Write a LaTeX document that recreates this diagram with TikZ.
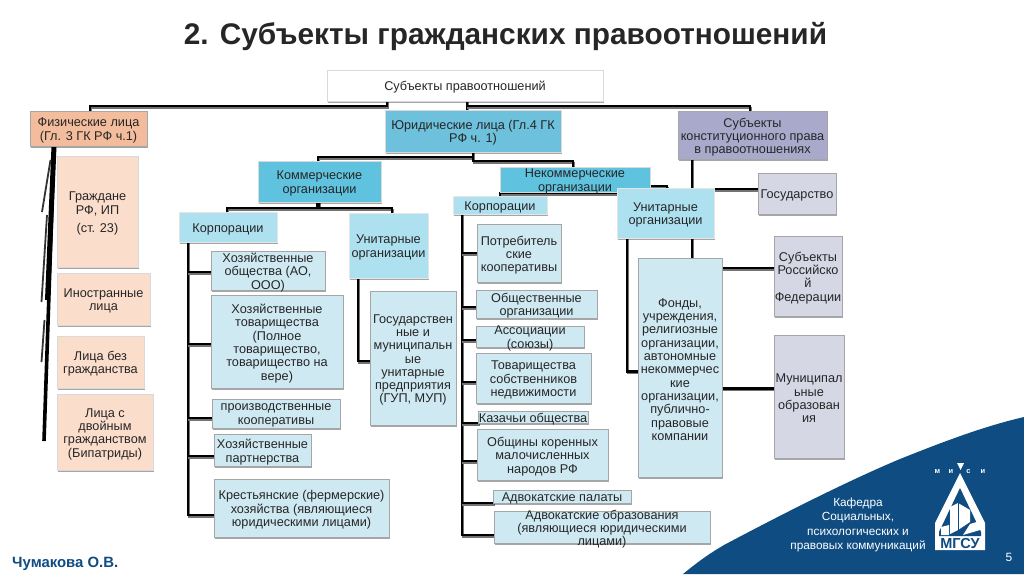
\documentclass[tikz,border=0pt]{standalone}
\usepackage{fontspec}
\setmainfont{Liberation Sans}
\usetikzlibrary{shadows,backgrounds,calc}
\definecolor{dkblue}{HTML}{0E4C82}
\definecolor{fizc}{HTML}{F3BC9D}
\definecolor{fizl}{HTML}{FBDDCC}
\definecolor{jur}{HTML}{6EC1DC}
\definecolor{kom}{HTML}{5FC3E0}
\definecolor{korp}{HTML}{AEE1F0}
\definecolor{leaf}{HTML}{CFE9F2}
\definecolor{kon}{HTML}{A9AACB}
\definecolor{konl}{HTML}{D6D7E5}
\tikzset{
  x=1pt,y=-1pt,
  boxbase/.style={rectangle,draw=black!35,line width=0.7pt,inner sep=0pt,outer sep=0pt,
    drop shadow={shadow xshift=0.8pt,shadow yshift=-1.8pt,fill=black,opacity=.35}},
  txt/.style={align=center,inner sep=0pt,text=black!85,yshift=-2pt,font=\fontsize{12.7}{13.3}\selectfont},
  rootb/.style={boxbase,fill=white,draw=black!15},
  fizb/.style={boxbase,fill=fizc},
  fizk/.style={boxbase,fill=fizl,draw=black!15},
  jurb/.style={boxbase,fill=jur,draw=black!15},
  komb/.style={boxbase,fill=kom,draw=black!15},
  korb/.style={boxbase,fill=korp,draw=black!10},
  leafb/.style={boxbase,fill=leaf},
  konb/.style={boxbase,fill=kon},
  konk/.style={boxbase,fill=konl},
  conn/.style={line width=2.6pt,black,line cap=rect},
  connsh/.style={line width=2.2pt,black!55,line cap=rect},
  whitetxt/.style={align=center,inner sep=0pt,text=white,font=\fontsize{11.8}{14.3}\selectfont},
}
\newcommand\bx[7]{%
  \node[#2,minimum width={(#5-#3)*1pt},minimum height={(#6-#4)*1pt},
    label={[txt]center:{#7}}] (#1) at ({(#3+#5)/2},{(#4+#6)/2}) {};}
\newcommand\cn[1]{%
  \begin{scope}[transform canvas={xshift=1.3pt,yshift=-1.6pt}]\draw[connsh] #1;\end{scope}%
  \draw[conn] #1;}
\newcommand\br[3]{\cn{([yshift=#3pt]#1 |- #2.west) -- ([yshift=#3pt]#2.west)}}
\begin{document}
\begin{tikzpicture}
\useasboundingbox (0,0) rectangle (1024,574);
\fill[dkblue] (683,574) .. controls (700,560) and (712,552) .. (724,545)
  .. controls (790,510) and (850,480) .. (900,459)
  .. controls (945,441) and (985,426) .. (1024,417) -- (1024,574) -- cycle;

\node[font=\bfseries\fontsize{29.8}{32}\selectfont,text=black!85,inner sep=0pt] (title) at (505.5,36) {2. Субъекты гражданских правоотношений};
\node[font=\bfseries\fontsize{14.9}{16}\selectfont,text=dkblue,inner sep=0pt,anchor=west] (author) at (12,564) {Чумакова О.В.};
\node[whitetxt] (dept) at (858,525) {Кафедра\\Социальных,\\психологических и\\правовых коммуникаций};
\node[text=white,font=\fontsize{12}{13}\selectfont,inner sep=0pt] (pagenum) at (1009,557) {5};

% logo
\fill[white] (957,463) -- (964,463) -- (960.5,470) -- cycle;
\fill[white] (960,473) -- (935,523) -- (935,550) -- (985,550) -- (985,523) -- cycle;
\fill[dkblue] (960,488) -- (939,532) -- (939,536) -- (981,536) -- (981,532) -- cycle;
\fill[white] (950,507) -- (958,503) -- (970,510) -- (970,522) -- (958,530) -- (950,534) -- cycle;
\fill[white] (970,524) -- (980,521) -- (980,530) -- (963,535) -- cycle;
\fill[white] (941,527) -- (949,525) -- (949,535) -- (941,535) -- cycle;
\draw[dkblue,line width=.8pt] (958,503) -- (958,530);
\node[font=\bfseries\fontsize{14.5}{15}\selectfont,text=dkblue,inner sep=0pt] (mgsu) at (960,543) {МГСУ};
\node[font=\bfseries\fontsize{7.5}{8}\selectfont,text=white,inner sep=0pt] (l1) at (937.5,472) {м};
\node[font=\bfseries\fontsize{7.5}{8}\selectfont,text=white,inner sep=0pt] (l2) at (951,472) {и};
\node[font=\bfseries\fontsize{7.5}{8}\selectfont,text=white,inner sep=0pt] (l3) at (968.5,472) {с};
\node[font=\bfseries\fontsize{7.5}{8}\selectfont,text=white,inner sep=0pt] (l4) at (983,472) {и};

% boxes
\bx{root}{rootb}{327}{70}{603}{101}{Субъекты правоотношений}
\bx{fiz}{fizb}{30}{111}{147}{146}{Физические лица\\(Гл. 3 ГК РФ ч.1)}
\bx{grazh}{fizk}{57}{156}{138}{267}{Граждане\\РФ, ИП\\[5pt](ст. 23)}
\bx{inostr}{fizk}{57}{273}{150}{325}{Иностранные\\лица}
\bx{bez}{fizk}{57}{336}{144}{388}{Лица без\\гражданства}
\bx{dvoin}{fizk}{57}{394}{153}{470}{Лица с\\двойным\\гражданством\\(Бипатриды)}
\bx{jurid}{jurb}{385}{110}{561}{152}{Юридические лица (Гл.4 ГК\\РФ ч. 1)}
\bx{komm}{komb}{258}{161}{381}{202}{Коммерческие\\организации}
\bx{nekomm}{komb}{500}{167}{650}{192}{Некоммерческие\\организации}
\bx{korpL}{korb}{179}{212}{277}{242}{Корпорации}
\bx{unitL}{korb}{349}{213}{428}{278}{Унитарные\\организации}
\bx{hozob}{leafb}{211}{251}{325}{290}{Хозяйственные\\общества (АО,\\ООО)}
\bx{hoztov}{leafb}{211}{295}{343}{388}{Хозяйственные\\товарищества\\(Полное\\товарищество,\\товарищество на\\вере)}
\bx{proizv}{leafb}{212}{399}{340}{428}{производственные\\кооперативы}
\bx{partn}{leafb}{214}{434}{311}{466}{Хозяйственные\\партнерства}
\bx{krest}{leafb}{214}{479}{389}{537}{Крестьянские (фермерские)\\хозяйства (являющиеся\\юридическими лицами)}
\bx{gosup}{leafb}{370}{291}{456}{425}{Государствен\\ные и\\муниципальн\\ые\\унитарные\\предприятия\\(ГУП, МУП)}
\bx{korpR}{korb}{453}{196}{547}{214}{Корпорации}
\bx{potreb}{leafb}{477}{224}{561}{282}{Потребитель\\ские\\кооперативы}
\bx{obshorg}{leafb}{476}{290}{597}{318}{Общественные\\организации}
\bx{assoc}{leafb}{476}{326}{584}{347}{Ассоциации\\(союзы)}
\bx{tovsob}{leafb}{476}{353}{591}{403}{Товарищества\\собственников\\недвижимости}
\bx{kazach}{leafb}{478}{411}{588}{423}{Казачьи общества}
\bx{obshin}{leafb}{477}{429}{608}{480}{Общины коренных\\малочисленных\\народов РФ}
\bx{palaty}{leafb}{493}{490}{631}{503}{Адвокатские палаты}
\bx{advobr}{leafb}{494}{511}{710}{543}{Адвокатские образования\\(являющиеся юридическими\\лицами)}
\bx{kons}{konb}{678}{111}{827}{159}{Субъекты\\конституционного права\\в правоотношениях}
\bx{unitR}{korb}{617}{188}{714}{238}{Унитарные\\организации}
\bx{fondy}{leafb}{638}{258}{722}{477}{Фонды,\\учреждения,\\религиозные\\организации,\\автономные\\некоммерчес\\кие\\организации,\\публично-\\правовые\\компании}
\bx{gosud}{konk}{758}{173}{836}{214}{Государство}
\bx{subrf}{konk}{774}{236}{842}{316}{Субъекты\\Российско\\й\\Федерации}
\bx{munic}{konk}{774}{335}{844}{458}{Муниципал\\ьные\\образован\\ия}

\begin{scope}[on background layer]
% root
\cn{(root.south -| 387,0) -- (387,106) -| (fiz.north -| 90,0)}
\cn{(root.south -| 467,0) -- (jurid.north -| 467,0)}
\cn{(root.south -| 467,0) -- (467,106) -| (kons.north -| 750,0)}
% juridical
\cn{(jurid.south -| 473,0) -- (473,157) -| (komm.north -| 318,0)}
\cn{(jurid.south -| 473,0) -- (473,161) -| (nekomm.north -| 573,0)}
% commercial
\cn{(komm.south -| 317,0) -- (317,208) -| (korpL.north -| 227,0)}
\cn{(komm.south -| 319,0) -- (319,208) -| (unitL.north -| 392,0)}
% non-commercial
\cn{(unitR.west |- 0,193) -- (500,193) -- (korpR.north -| 500,0)}
\cn{(nekomm.east |- 0,186) -| (unitR.north -| 667,0)}
% left spine
\coordinate (spL) at (korpL.south -| 188,0);
\cn{(korpL.south -| 188,0) -- ([yshift=-7pt]spL |- krest.west)}
\br{spL}{hozob}{-1.5}\br{spL}{hoztov}{-2.5}\br{spL}{proizv}{-4.5}\br{spL}{partn}{-6}\br{spL}{krest}{-7}
% unitary left
\cn{(unitL.south -| 358,0) |- ([yshift=-3pt]gosup.west)}
% right spine
\coordinate (spR) at (korpR.south -| 462,0);
\cn{(korpR.south -| 462,0) -- ([yshift=-8pt]spR |- advobr.west)}
\br{spR}{potreb}{0}\br{spR}{obshorg}{-3}\br{spR}{assoc}{-3.5}\br{spR}{tovsob}{-4}\br{spR}{kazach}{-6}\br{spR}{obshin}{-6.5}\br{spR}{palaty}{-6.5}\br{spR}{advobr}{-8}
% unitary right
\cn{(unitR.south -| 627,0) |- ([yshift=-4pt]fondy.west)}
% constitutional
\coordinate (spK) at (kons.south -| 692,0);
\cn{(kons.south -| 692,0) -- (692,389)}
\br{spK}{gosud}{4.5}
\cn{([yshift=8pt]fondy.east |- subrf.west) -- ([yshift=8pt]subrf.west)}
\cn{([yshift=8pt]fondy.east |- munic.west) -- ([yshift=8pt]munic.west)}
% physical persons
\coordinate (fizS) at (fiz.south -| 54,0);
\draw[line width=5pt,black] (fizS) -- (47.5,300);
\draw[line width=3.6pt,black] (fizS) -- (44,441);
\draw[line width=1.8pt,black!80] (50.5,160) -- (42,212);
\draw[line width=1.8pt,black!80] (47,215) -- (41.5,302);
\draw[line width=1.8pt,black!80] (44.5,320) -- (41.5,362);
\end{scope}
\end{tikzpicture}
\end{document}
